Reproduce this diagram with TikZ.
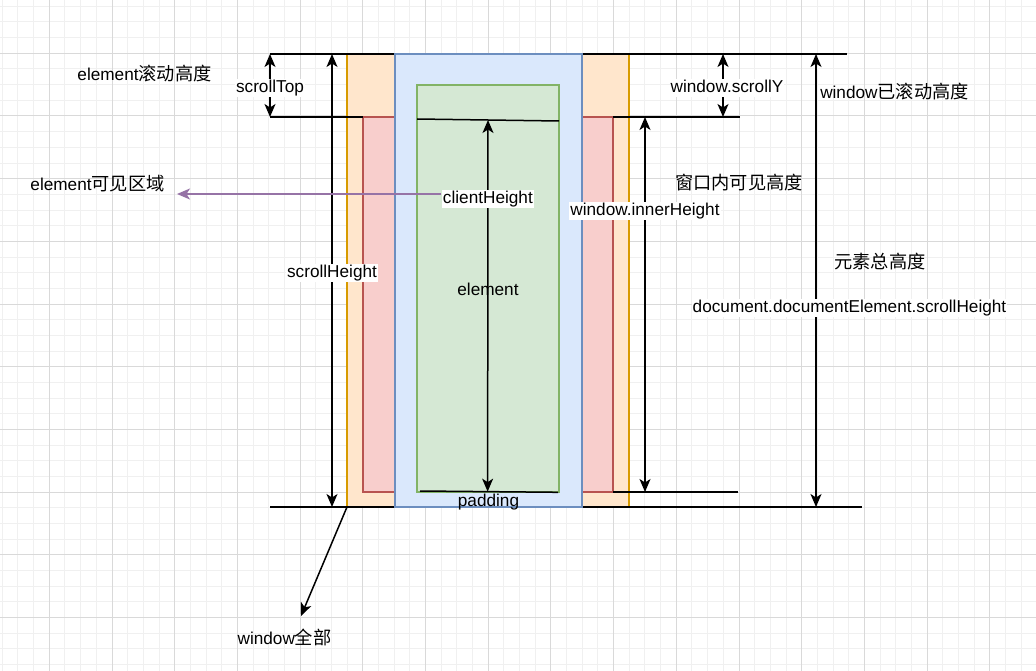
\documentclass[tikz,border=0pt]{standalone}
\usepackage{fontspec}
\setmainfont{Liberation Sans}
\newfontfamily\cjk[Scale=1.06]{Noto Sans CJK SC}
\newcommand{\zh}[1]{{\cjk #1}}
\usetikzlibrary{arrows.meta,calc}
\definecolor{arancioF}{HTML}{FFE6CC}
\definecolor{arancioD}{HTML}{D79B00}
\definecolor{rossoF}{HTML}{F8CECC}
\definecolor{rossoD}{HTML}{B85450}
\definecolor{bluF}{HTML}{DAE8FC}
\definecolor{bluD}{HTML}{6C8EBF}
\definecolor{verdeF}{HTML}{D5E8D4}
\definecolor{verdeD}{HTML}{82B366}
\definecolor{viola}{HTML}{9673A6}
\definecolor{grigliaC}{HTML}{F0F0F0}
\definecolor{grigliaS}{HTML}{D9D9D9}
\tikzset{
>={Stealth[length=13pt,width=11pt,inset=3.5pt]},
griglia/.style={grigliaC,line width=1pt},
grigliaforte/.style={grigliaS,line width=1pt},
linea/.style={line width=1.5pt},
doppia/.style={<->,line width=1.5pt},
freccia/.style={->,line width=1.5pt},
etichetta/.style={fill=white,inner sep=1pt,text height=12.5pt,text depth=3.5pt,yshift=-2.5pt},
testo/.style={inner sep=0pt,text height=12.5pt,text depth=3.5pt,yshift=-2.5pt},
scatola/.style={anchor=north west,line width=1.5pt,inner sep=0pt,outer sep=0pt}}

\begin{document}
\begin{tikzpicture}[x=1pt,y=-1pt,font=\fontsize{17.2}{20}\selectfont]

\useasboundingbox (0,0) rectangle (1036,671);
\fill[white] (0,0) rectangle (1036,671);

\foreach \i in {0,...,65} \draw[griglia] ({2.275+15.675*\i},0) -- ++(0,671);
\foreach \i in {0,...,42} \draw[griglia] (0,{6.275+15.675*\i}) -- ++(1036,0);
\foreach \i in {0,...,15} \draw[grigliaforte] ({49.3+62.7*\i},0) -- ++(0,671);
\foreach \i in {0,...,9} \draw[grigliaforte] (0,{53.3+62.7*\i}) -- ++(1036,0);

\node[scatola,fill=arancioF,draw=arancioD,minimum width=282,minimum height=453] (tutto) at (347,54) {};
\node[scatola,fill=rossoF,draw=rossoD,minimum width=250,minimum height=375] (visibile) at (363,117) {};

\coordinate (a1) at (270,54);
\coordinate (a2) at (847,54);
\coordinate (b1) at (270,117);
\coordinate (c2) at (740,117);
\coordinate (d2) at (738,492);
\coordinate (e1) at (270,507);
\coordinate (e2) at (862,507);

\draw[linea] (a1) -- (a2);
\draw[linea] (b1) -- (visibile.north west);
\draw[linea] (visibile.north east) -- (c2);
\draw[linea] (visibile.south east) -- (d2);
\draw[linea] (e1) -- (e2);

\node[scatola,fill=bluF,draw=bluD,minimum width=187,minimum height=453] (elemento) at (395,54) {};
\node[scatola,fill=verdeF,draw=verdeD,minimum width=142,minimum height=407] (contenuto) at (417,85) {};

\coordinate (g1) at (417,119);
\coordinate (g2) at (559,121);
\coordinate (h1) at (420,491);
\coordinate (h2) at (558,492.3);
\draw[linea] (g1) -- (g2);
\draw[linea] (h1) -- (h2);

\node[testo] (el) at (488,288) {element};

\coordinate (k1) at (332,0);
\coordinate (k2) at (645,0);
\coordinate (k3) at (723,0);
\coordinate (k4) at (816,0);

\draw[doppia] (a1) -- node[etichetta] (st) {scrollTop} (b1);
\draw[doppia] (k1 |- a1) -- node[etichetta,pos=0.477] (sh) {scrollHeight} (k1 |- e1);
\draw[doppia] ($(g1)!0.5!(g2)$) -- node[etichetta,pos=0.205] (ch) {clientHeight} ($(h1)!0.49!(h2)$);
\draw[doppia] (k2 |- b1) -- node[etichetta,pos=0.245] (ih) {window.innerHeight} (k2 |- d2);
\draw[doppia] (k3 |- a1) -- node[etichetta,xshift=4pt] (sy) {window.scrollY} (k3 |- b1);
\draw[doppia] (k4 |- a1) -- (k4 |- e1);

\node[testo] (pad) at (488.5,499) {padding};

\node[etichetta] (doc) at (849.5,305) {document.documentElement.scrollHeight};
\node[testo] (tot) at (880,262) {\zh{元素总高度}};
\node[testo] (wsc) at (894.5,92) {window\zh{已滚动高度}};
\node[testo] (fin) at (739,183) {\zh{窗口内可见高度}};
\node[testo] (esc) at (144.5,74) {element\zh{滚动高度}};
\node[testo] (evis) at (97.5,184) {element\zh{可见区域}};
\node[testo] (wtut) at (284.5,637) {window\zh{全部}};

\coordinate (pv) at (177,194);
\draw[freccia,viola] (ch.west |- pv) -- (pv);
\coordinate (pw) at (301,616);
\draw[freccia] (tutto.south west) -- (pw);
\end{tikzpicture}
\end{document}
